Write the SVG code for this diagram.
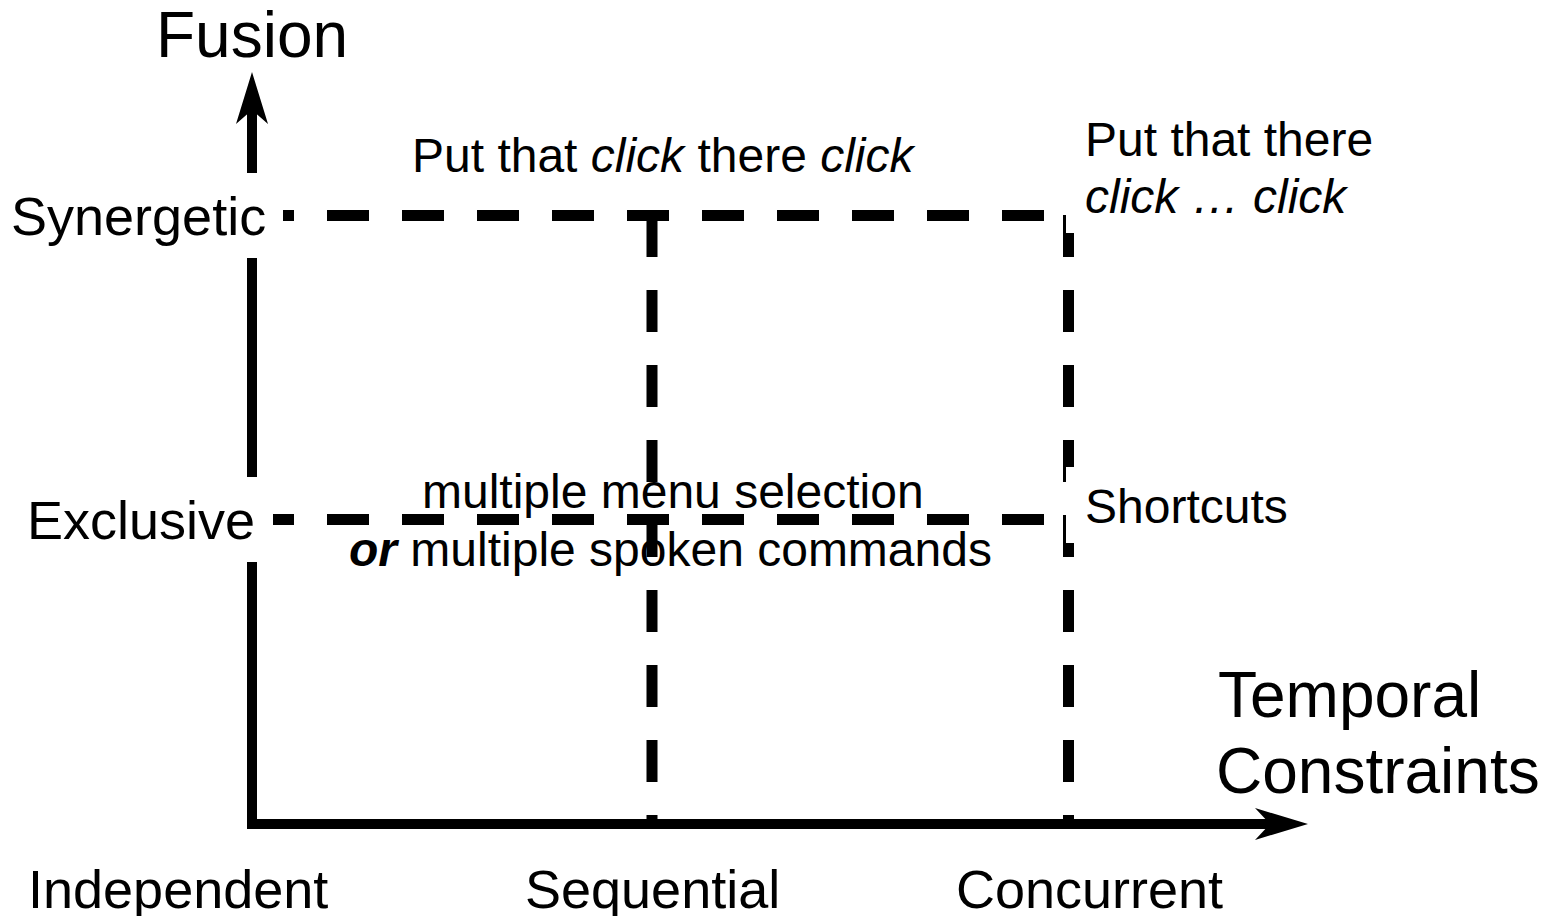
<svg xmlns="http://www.w3.org/2000/svg" width="1557" height="916" viewBox="0 0 1557 916">
<style>
text{font-family:"Liberation Sans",Arial,sans-serif;fill:#000}
.big{font-size:64px}
.axl{font-size:54px}
.ann{font-size:48px}
.dash{stroke:#000;stroke-width:11;fill:none;stroke-dasharray:42 33}
.axis{stroke:#000;stroke-width:10;fill:none}
.mask{fill:#fff}
</style>
<rect width="1557" height="916" fill="#fff"/>
<g id="connectors">
<line class="dash" x1="252" y1="215.5" x2="1068" y2="215.5"/>
<line class="dash" x1="252" y1="519.5" x2="1068" y2="519.5"/>
<line class="dash" x1="652" y1="215" x2="652" y2="824"/>
<line class="dash" x1="1068.5" y1="215" x2="1068.5" y2="824"/>
<line class="axis" x1="252" y1="829" x2="252" y2="110"/>
<polygon points="252,72 268,124 252,110 236,124" fill="#000"/>
<line class="axis" x1="247" y1="824" x2="1272" y2="824"/>
<polygon points="1308,824 1255,840 1270,824 1255,808" fill="#000"/>
</g>
<g id="synergetic">
<rect class="mask" x="0" y="173" width="283" height="85"/>
<text class="axl" x="11" y="235">Synergetic</text>
</g>
<g id="exclusive">
<rect class="mask" x="0" y="477" width="273" height="85"/>
<text class="axl" x="27" y="539">Exclusive</text>
</g>
<g id="fusion"><text class="big" x="156" y="57">Fusion</text></g>
<g id="temporal">
<text class="big" x="1218" y="717">Temporal</text>
<text class="big" x="1216" y="793">Constraints</text>
</g>
<g id="independent"><text class="axl" x="28" y="908">Independent</text></g>
<g id="sequential"><text class="axl" x="525" y="908">Sequential</text></g>
<g id="concurrent"><text class="axl" x="956" y="908">Concurrent</text></g>
<g id="sequential-synergetic"><text class="ann" x="412" y="172">Put that <tspan font-style="italic">click</tspan> there <tspan font-style="italic">click</tspan></text></g>
<g id="concurrent-synergetic">
<rect class="mask" x="1066" y="110" width="320" height="123"/>
<text class="ann" x="1085" y="156">Put that there</text>
<text class="ann" x="1085" y="213" font-style="italic">click … click</text>
</g>
<g id="concurrent-exclusive">
<rect class="mask" x="1066" y="467" width="230" height="76"/>
<text class="ann" x="1085" y="523">Shortcuts</text>
</g>
<g id="sequential-exclusive">
<text class="ann" x="422" y="508">multiple menu selection</text>
<text class="ann" x="349" y="566"><tspan font-weight="bold" font-style="italic">or</tspan> multiple spoken commands</text>
</g>
</svg>
